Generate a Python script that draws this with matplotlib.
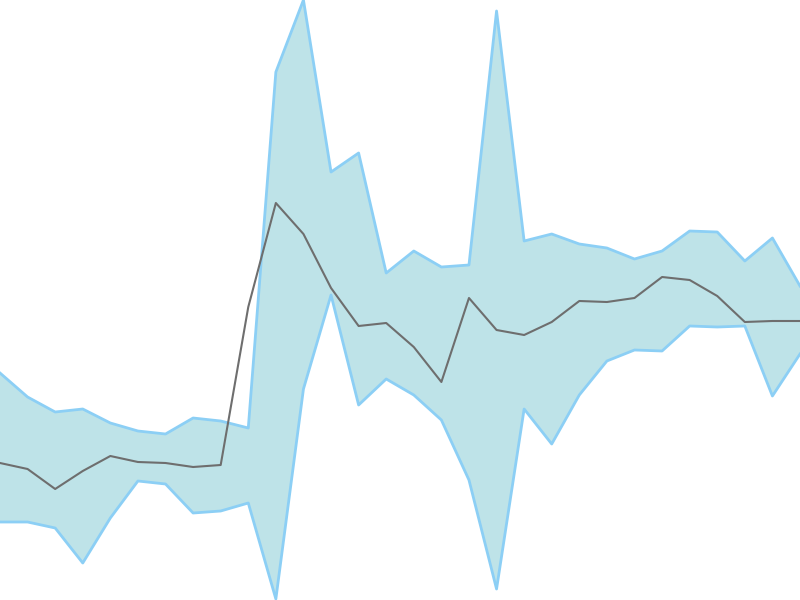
import numpy as np
import matplotlib.pyplot as plt

# values (height above bottom, px units)
upper_px = [373, 397, 412, 409, 423, 431, 434, 418, 421, 428, 72, 0, 172, 153, 273,
            251, 267, 265, 11, 241, 234, 244, 248, 259, 251, 231, 232, 261, 238, 286]
middle_px = [463, 469, 489, 471, 456, 462, 463, 467, 465, 307, 203, 234, 288, 326, 323,
             347, 382, 298, 330, 335, 322, 301, 302, 298, 277, 280, 296, 322, 321, 321]
lower_px = [522, 522, 528, 563, 518, 481, 484, 513, 511, 503, 599, 389, 295, 405, 379,
            395, 420, 480, 589, 409, 444, 395, 361, 350, 351, 326, 327, 326, 396, 354]

upper = 600 - np.array(upper_px)
middle = 600 - np.array(middle_px)
lower = 600 - np.array(lower_px)
x = np.arange(len(middle))

fig = plt.figure(figsize=(8, 6), dpi=100)
ax = fig.add_axes([0, 0, 1, 1])

ax.fill_between(x, lower, upper, color='#bee3e8', linewidth=0)
ax.plot(x, upper, color='#8ccff5', linewidth=2)
ax.plot(x, lower, color='#8ccff5', linewidth=2)
ax.plot(x, middle, color='#6e6e6e', linewidth=1.5)

ax.set_xlim(0, len(x) - 1)
ax.set_ylim(0, 600)
ax.axis('off')

plt.savefig('out.png', dpi=100)
